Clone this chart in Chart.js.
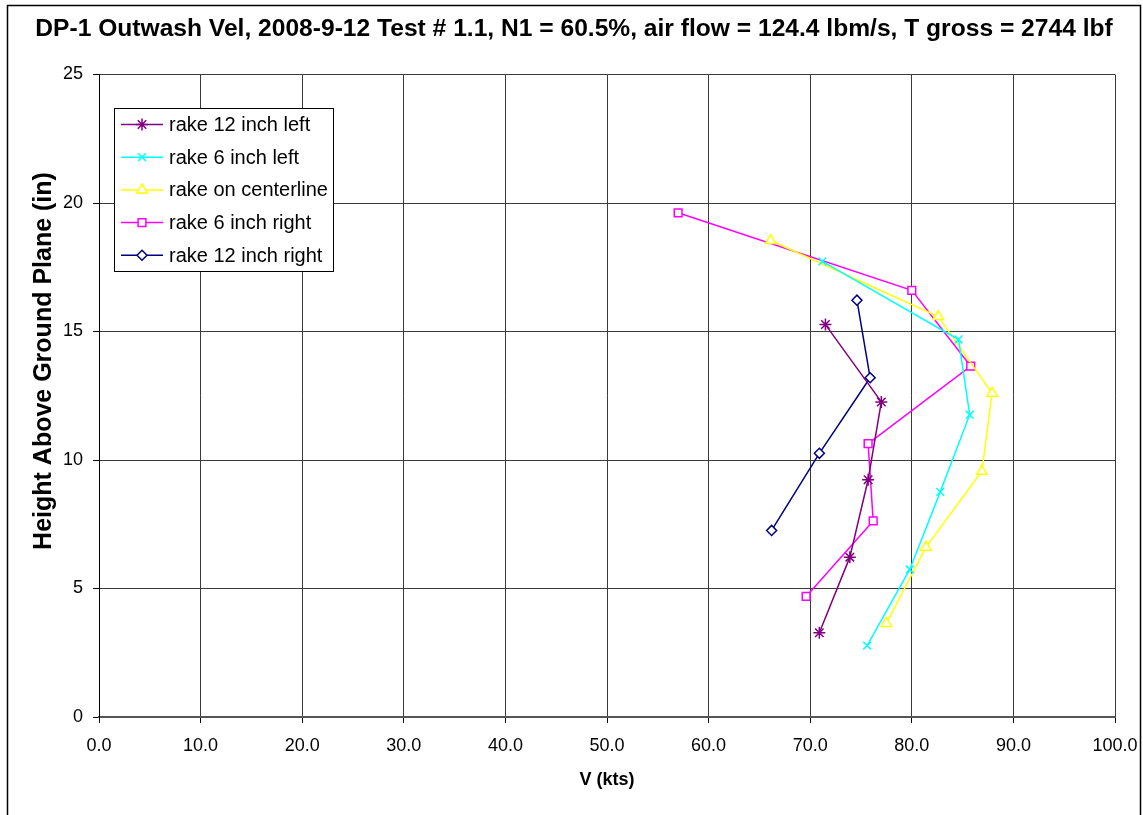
<!DOCTYPE html>
<html>
<head>
<meta charset="utf-8">
<script src="https://cdn.jsdelivr.net/npm/chart.js@4/dist/chart.umd.min.js"></script>
<style>
  body { margin: 0; background: #fff; }
  canvas { display: block; }
</style>
</head>
<body>
<canvas id="outwash" width="1143" height="815"></canvas>
<script>
// rake data: velocity (kts) vs height above ground plane (in)
var seriesNames = ["rake 12 inch left", "rake 6 inch left", "rake on centerline", "rake 6 inch right", "rake 12 inch right"];

var left12V = [71.5, 77.0, 75.7, 73.9, 70.9];
var left12H = [15.27, 12.26, 9.23, 6.22, 3.28];

var left6V = [71.2, 84.6, 85.7, 82.8, 79.8, 75.6];
var left6H = [17.73, 14.69, 11.76, 8.76, 5.74, 2.78];

var centerV = [66.1, 82.6, 87.9, 86.9, 81.4, 77.5];
var centerH = [18.54, 15.58, 12.60, 9.56, 6.61, 3.64];

var right6V = [57.0, 80.0, 85.8, 75.7, 76.2, 69.6];
var right6H = [19.62, 16.60, 13.65, 10.64, 7.63, 4.69];

var right12V = [74.6, 75.9, 70.9, 66.2];
var right12H = [16.22, 13.20, 10.26, 7.26];

var xTicks = [0, 10, 20, 30, 40, 50, 60, 70, 80, 90, 100];
var yTicks = [0, 5, 10, 15, 20, 25];

var colors = ["#800080", "#00FFFF", "#FFFF00", "#FF00FF", "#000080"];
var markers = ["star", "crossRot", "triangle", "rect", "rectRot"];
var markerSize = [6, 5.5, 6, 5.5, 5];

var yTitle = "Height Above Ground Plane (in)";
var FONT = "'Liberation Sans', Arial, sans-serif";

function toPoints(xs, ys) {
    var pts = [];
    for (let i = 0; i < xs.length; i++) {
        pts.push({ x: xs[i], y: ys[i] });
    }
    return pts;
}

var allV = [left12V, left6V, centerV, right6V, right12V];
var allH = [left12H, left6H, centerH, right6H, right12H];

var datasets = [];
for (let i = 0; i < seriesNames.length; i++) {
    datasets.push({
        label: seriesNames[i],
        data: toPoints(allV[i], allH[i]),
        showLine: true,
        borderColor: colors[i],
        backgroundColor: "#fff",
        borderWidth: 1.5,
        pointStyle: markers[i],
        pointRadius: markerSize[i],
        pointBorderColor: colors[i],
        pointBackgroundColor: "#fff",
        pointBorderWidth: 1.5,
        tension: 0
    });
}

// outer frame + white background + y axis title (sits a bit above centre, like excel)
const framePlugin = {
    id: 'frame',
    beforeDraw(chart) {
        const ctx = chart.ctx;
        ctx.save();
        ctx.fillStyle = "#fff";
        ctx.fillRect(0, 0, chart.width, chart.height);
        ctx.strokeStyle = "#000";
        ctx.lineWidth = 1.5;
        ctx.strokeRect(7.5, 5.5, 1133, 830);
        ctx.restore();
    },
    afterDraw(chart) {
        const ctx = chart.ctx;
        ctx.save();
        ctx.translate(44, 361);
        ctx.rotate(-Math.PI / 2);
        ctx.font = "bold 25px " + FONT;
        ctx.fillStyle = "#000";
        ctx.textAlign = "center";
        ctx.textBaseline = "middle";
        ctx.fillText(yTitle, 0, 0);
        ctx.restore();
    }
};

// excel style legend box inside the plot
const boxLegend = {
    id: 'boxLegend',
    afterDraw(chart) {
        const ctx = chart.ctx;
        const x0 = 114.5, y0 = 108.5, w = 219, h = 163;
        ctx.save();
        ctx.fillStyle = "#fff";
        ctx.fillRect(x0, y0, w, h);
        ctx.strokeStyle = "#000";
        ctx.lineWidth = 1;
        ctx.strokeRect(x0, y0, w, h);
        ctx.font = "20px " + FONT;
        ctx.textBaseline = "middle";
        chart.data.datasets.forEach(function (ds, i) {
            const yy = 124.5 + i * 32.7;
            ctx.strokeStyle = ds.borderColor;
            ctx.lineWidth = 1.5;
            ctx.beginPath();
            ctx.moveTo(121, yy);
            ctx.lineTo(163, yy);
            ctx.stroke();
            ctx.fillStyle = "#fff";
            ctx.strokeStyle = ds.borderColor;
            ctx.lineWidth = 1.5;
            Chart.helpers.drawPoint(ctx, { pointStyle: ds.pointStyle, radius: ds.pointRadius, rotation: 0, borderWidth: 1.5 }, 142, yy);
            ctx.fillStyle = "#000";
            ctx.fillText(ds.label, 169, yy + 1);
        });
        ctx.restore();
    }
};

const ctx = document.getElementById('outwash').getContext('2d');

const outwashChart = new Chart(ctx, {
    type: 'scatter',
    data: { datasets: datasets },
    plugins: [framePlugin, boxLegend],
    options: {
        responsive: false,
        animation: false,
        devicePixelRatio: 1,
        layout: { padding: { top: 8, left: 33, right: 28, bottom: 8 } },
        plugins: {
            legend: { display: false },
            tooltip: { enabled: false },
            title: {
                display: true,
                text: "DP-1 Outwash Vel, 2008-9-12 Test # 1.1, N1 = 60.5%, air flow = 124.4 lbm/s, T gross = 2744 lbf",
                color: "#000",
                font: { family: FONT, size: 24.6, weight: 'bold' },
                padding: { top: 6, bottom: 31 }
            }
        },
        scales: {
            x: {
                type: 'linear',
                min: 0,
                max: 100,
                afterBuildTicks(scale) {
                    scale.ticks = xTicks.map((v) => ({ value: v }));
                },
                afterFit(scale) {
                    scale.height = 90;
                    scale.paddingLeft = 0;
                    scale.paddingRight = 0;
                },
                ticks: {
                    color: "#000",
                    padding: 12,
                    font: { family: FONT, size: 18 },
                    callback: (v) => Number(v).toFixed(1)
                },
                grid: { color: "#3a3a3a", lineWidth: 1, tickLength: 6, tickColor: "#000" },
                border: { color: "#555", width: 2 },
                title: {
                    display: true,
                    text: "V (kts)",
                    color: "#000",
                    font: { family: FONT, size: 18, weight: 'bold' },
                    padding: { top: 0, bottom: 16 }
                }
            },
            y: {
                type: 'linear',
                min: 0,
                max: 25,
                afterBuildTicks(scale) {
                    scale.ticks = yTicks.map((v) => ({ value: v }));
                },
                afterFit(scale) {
                    scale.width = 66;
                    scale.paddingTop = 0;
                    scale.paddingBottom = 0;
                },
                ticks: {
                    color: "#000",
                    padding: 10,
                    font: { family: FONT, size: 18 }
                },
                grid: { color: "#3a3a3a", lineWidth: 1, tickLength: 6, tickColor: "#000" },
                border: { color: "#000", width: 1 },
                title: { display: false }
            }
        }
    }
});
</script>
</body>
</html>
